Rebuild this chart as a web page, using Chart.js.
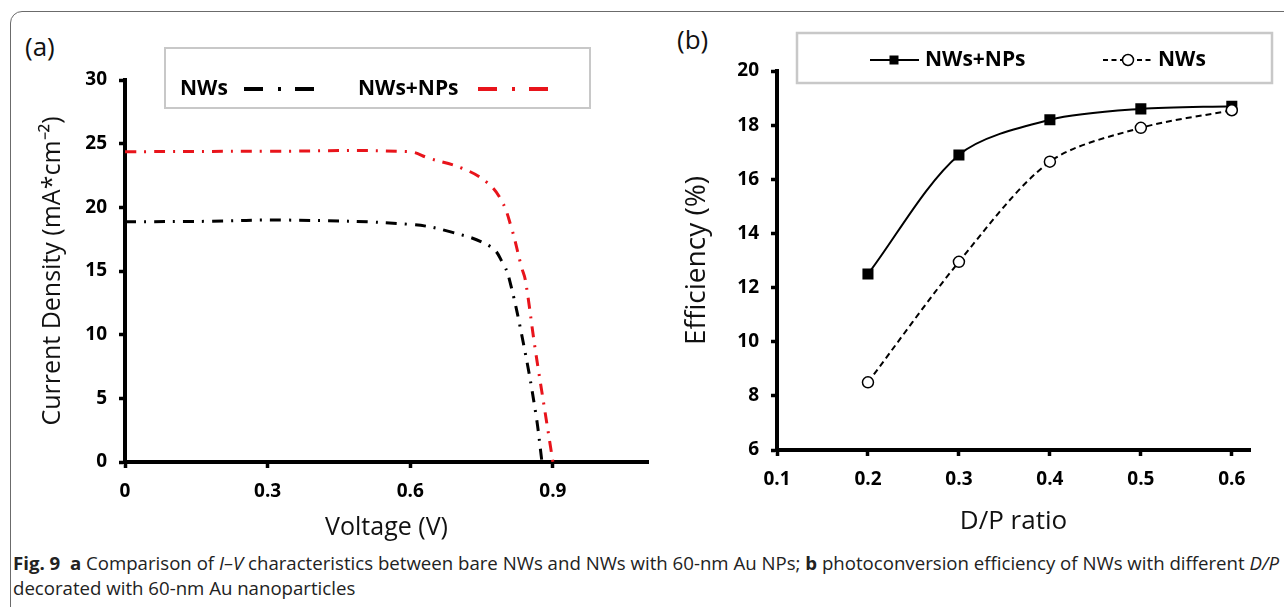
<!DOCTYPE html>
<html>
<head>
<meta charset="utf-8">
<script src="https://cdn.jsdelivr.net/npm/chart.js@4.4.0/dist/chart.umd.min.js"></script>
<style>
  body { margin: 0; background: #fff; width: 1284px; height: 607px; overflow: hidden; position: relative; font-family: "Open Sans", sans-serif; }
  .frame { position: absolute; left: 10px; top: 11px; width: 1300px; height: 640px; border: 1.5px solid #6b6b6b; border-radius: 12px; }
  canvas { position: absolute; top: 0; }
  #ivChart { left: 0; }
  #effChart { left: 660px; }
  .panel { position: absolute; font-size: 26px; line-height: 26px; color: #111; }
  .caption { position: absolute; left: 13px; font-size: 18px; line-height: 22px; color: #222; white-space: nowrap; transform-origin: 0 0; }
</style>
</head>
<body>
<div class="frame"></div>
<div class="panel" style="left:25px; top:33px;">(a)</div>
<div class="panel" style="left:677px; top:26px;">(b)</div>
<canvas id="ivChart" width="660" height="545"></canvas>
<canvas id="effChart" width="624" height="545"></canvas>
<div class="caption" id="cap1" style="top:552px;"><b>Fig. 9</b>&nbsp; <b>a</b> Comparison of <i>I–V</i> characteristics between bare NWs and NWs with 60-nm Au NPs; <b>b</b> photoconversion efficiency of NWs with different <i>D/P</i></div>
<div class="caption" id="cap2" style="top:577px;">decorated with 60-nm Au nanoparticles</div>

<script>
// ---- (a) I-V curves ----
const nwsVoltage = [0, 0.17, 0.339, 0.597, 0.683, 0.769, 0.795, 0.808, 0.838, 0.864, 0.877];
const nwsCurrent = [18.87, 18.9, 19.0, 18.67, 18.09, 16.91, 15.6, 14.4, 9.3, 3.8, 0];
const npsVoltage = [0, 0.3, 0.597, 0.64, 0.709, 0.76, 0.791, 0.812, 0.834, 0.842, 0.862, 0.884, 0.9];
const npsCurrent = [24.37, 24.4, 24.37, 23.85, 23.07, 22.0, 20.6, 18.5, 15.3, 14.3, 9.06, 3.8, 0];
const voltageTicks = [0, 0.3, 0.6, 0.9];
const currentTicks = [0, 5, 10, 15, 20, 25, 30];

// ---- (b) efficiency vs D/P ----
const dpRatio = [0.2, 0.3, 0.4, 0.5, 0.6];
const effNWsNPs = [12.5, 16.9, 18.2, 18.6, 18.7];
const effNWs = [8.5, 12.95, 16.65, 17.9, 18.55];
const dpTicks = [0.1, 0.2, 0.3, 0.4, 0.5, 0.6];
const effTicks = [6, 8, 10, 12, 14, 16, 18, 20];

Chart.defaults.font.family = "'Open Sans', sans-serif";
Chart.defaults.color = "#000";

const toPoints = (xs, ys) => xs.map((x, i) => ({ x: x, y: ys[i] }));

function axis(opts) {
    // shared look of the thick Excel-style axes
    return {
        type: "linear",
        min: opts.min,
        max: opts.max,
        afterBuildTicks: (scale) => { scale.ticks = opts.ticks.map((v) => ({ value: v })); },
        afterFit: (scale) => {
            if (opts.width) scale.width = opts.width;
            if (opts.height) scale.height = opts.height;
        },
        ticks: {
            font: { size: 19, weight: "bold" },
            color: "#000",
            padding: opts.pad,
            callback: (v) => String(v),
        },
        grid: { display: true, drawOnChartArea: false, drawTicks: true, tickLength: 6, tickWidth: 3.5, color: "#000" },
        border: { display: true, width: 4, color: "#000" },
        title: { display: true, text: opts.title, font: { size: opts.titleSize }, color: "#111", padding: opts.titlePad },
    };
}

// legend box for the I-V panel
const ivLegend = {
    id: "ivLegend",
    afterDraw(chart) {
        const ctx = chart.ctx;
        ctx.save();
        ctx.strokeStyle = "#c8c8c8";
        ctx.lineWidth = 2;
        ctx.strokeRect(165, 48, 425, 60);
        ctx.font = "bold 21px 'Open Sans'";
        ctx.textBaseline = "middle";
        const y = 89;
        const entries = [
            { text: "NWs", tx: 180, x0: 244, x1: 314, ds: 0 },
            { text: "NWs+NPs", tx: 358, x0: 478, x1: 549, ds: 1 },
        ];
        entries.forEach((e) => {
            ctx.fillStyle = "#000";
            ctx.fillText(e.text, e.tx, y);
            ctx.strokeStyle = chart.data.datasets[e.ds].borderColor;
            ctx.lineWidth = 4;
            ctx.setLineDash([19, 15, 3, 14]);
            ctx.beginPath();
            ctx.moveTo(e.x0, y);
            ctx.lineTo(e.x1, y);
            ctx.stroke();
        });
        ctx.restore();
    },
};

// legend box for the efficiency panel
const effLegend = {
    id: "effLegend",
    afterDraw(chart) {
        const ctx = chart.ctx;
        const y = 60;
        ctx.save();
        ctx.strokeStyle = "#c8c8c8";
        ctx.lineWidth = 2.5;
        ctx.strokeRect(137, 33, 475, 50);
        ctx.font = "bold 21px 'Open Sans'";
        ctx.textBaseline = "middle";
        ctx.fillStyle = "#000";
        ctx.fillText("NWs+NPs", 265, y);
        ctx.fillText("NWs", 498, y);

        ctx.strokeStyle = "#000";
        ctx.lineWidth = 2;
        ctx.beginPath();
        ctx.moveTo(210, y);
        ctx.lineTo(259, y);
        ctx.stroke();
        ctx.fillRect(234 - 4.5, y - 4.5, 9, 9);

        ctx.setLineDash([5, 3.5]);
        ctx.beginPath();
        ctx.moveTo(443, y);
        ctx.lineTo(494, y);
        ctx.stroke();
        ctx.setLineDash([]);
        ctx.beginPath();
        ctx.arc(468, y, 5.5, 0, Math.PI * 2);
        ctx.fillStyle = "#fff";
        ctx.fill();
        ctx.lineWidth = 1.5;
        ctx.stroke();
        ctx.restore();
    },
};

new Chart(document.getElementById("ivChart"), {
    type: "scatter",
    data: {
        datasets: [
            {
                label: "NWs",
                data: toPoints(nwsVoltage, nwsCurrent),
                showLine: true,
                borderColor: "#000",
                borderWidth: 3,
                borderDash: [11, 8, 2, 8],
                borderCapStyle: "butt",
                tension: 0.4,
                pointRadius: 0,
            },
            {
                label: "NWs+NPs",
                data: toPoints(npsVoltage, npsCurrent),
                showLine: true,
                borderColor: "#e8141b",
                borderWidth: 3,
                borderDash: [11, 8, 2, 8],
                borderCapStyle: "butt",
                tension: 0.4,
                pointRadius: 0,
            },
        ],
    },
    options: {
        responsive: false,
        animation: false,
        layout: { padding: { left: 0, right: 12, top: 80, bottom: 0 } },
        plugins: { legend: { display: false }, tooltip: { enabled: false } },
        scales: {
            x: axis({ min: 0, max: 1.1, ticks: voltageTicks, height: 83, pad: 12, title: "Voltage (V)", titleSize: 25, titlePad: { bottom: 2 } }),
            y: axis({ min: 0, max: 30, ticks: currentTicks, width: 125, pad: 12, title: "Current Density (mA*cm⁻²)", titleSize: 25, titlePad: { top: 38 } }),
        },
    },
    plugins: [ivLegend],
});

new Chart(document.getElementById("effChart"), {
    type: "scatter",
    data: {
        datasets: [
            {
                label: "NWs",
                data: toPoints(dpRatio, effNWs),
                showLine: true,
                borderColor: "#000",
                borderWidth: 2,
                borderDash: [6, 4],
                tension: 0.3,
                pointStyle: "circle",
                pointRadius: 5.5,
                pointBackgroundColor: "#fff",
                pointBorderColor: "#000",
                pointBorderWidth: 1.5,
            },
            {
                label: "NWs+NPs",
                data: toPoints(dpRatio, effNWsNPs),
                showLine: true,
                borderColor: "#000",
                borderWidth: 2,
                tension: 0.3,
                pointStyle: "rect",
                pointRadius: 6.4,
                pointBackgroundColor: "#000",
                pointBorderColor: "#000",
            },
        ],
    },
    options: {
        responsive: false,
        animation: false,
        layout: { padding: { left: 0, right: 34, top: 71, bottom: 0 } },
        plugins: { legend: { display: false }, tooltip: { enabled: false } },
        scales: {
            x: axis({ min: 0.1, max: 0.62, ticks: dpTicks, height: 95, pad: 12, title: "D/P ratio", titleSize: 26, titlePad: { bottom: 8 } }),
            y: axis({ min: 6, max: 20, ticks: effTicks, width: 117, pad: 12, title: "Efficiency (%)", titleSize: 28, titlePad: { top: 20 } }),
        },
    },
    plugins: [effLegend],
});

// squeeze the caption to the figure width
const cap1 = document.getElementById("cap1");
const squeeze = 1266 / cap1.getBoundingClientRect().width;
document.querySelectorAll(".caption").forEach((el) => { el.style.transform = `scaleX(${squeeze})`; });
</script>
</body>
</html>
